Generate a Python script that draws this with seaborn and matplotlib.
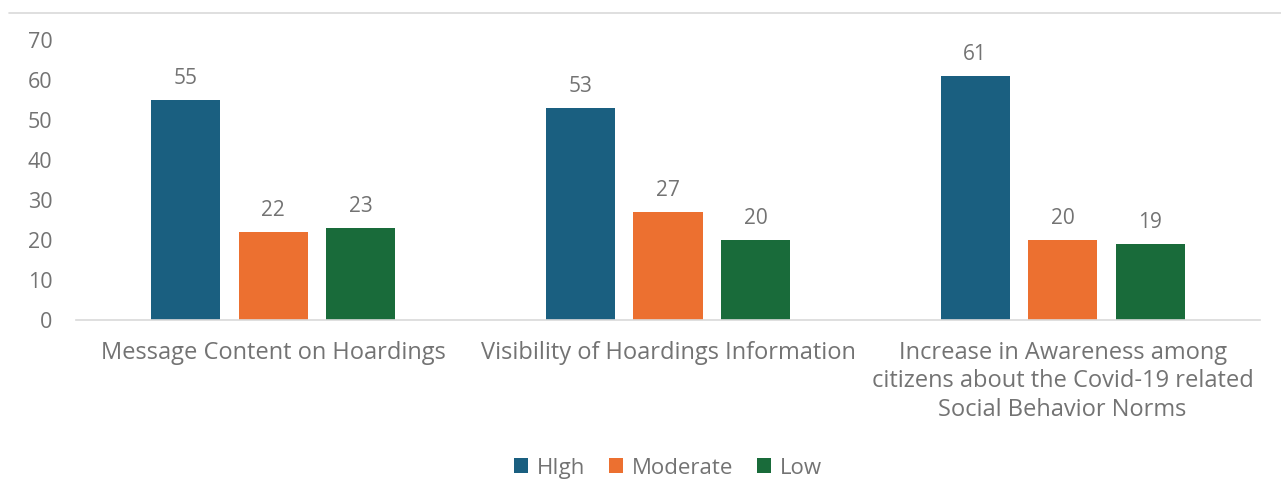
import pandas as pd
import matplotlib.pyplot as plt
import seaborn as sns
from matplotlib.lines import Line2D

# Data
categories = [
    "Message Content on Hoardings",
    "Visibility of Hoardings Information",
    "Increase in Awareness among\ncitizens about the Covid-19 related\nSocial Behavior Norms",
]
levels = ["HIgh", "Moderate", "Low"]
high = [55, 53, 61]
moderate = [22, 27, 20]
low = [23, 20, 19]

df = pd.DataFrame({
    "category": categories * 3,
    "level": [levels[0]] * 3 + [levels[1]] * 3 + [levels[2]] * 3,
    "value": high + moderate + low,
})

colors = ["#1A5F80", "#EC7030", "#196B3A"]
text_color = "#737373"

sns.set_style("white")
plt.rcParams["font.family"] = ["Open Sans", "DejaVu Sans"]

fig = plt.figure(figsize=(12.81, 4.92), dpi=100)
ax = fig.add_axes([76 / 1281, 172 / 492, 1184 / 1281, 280 / 492])

sns.barplot(
    data=df,
    x="category",
    y="value",
    hue="level",
    palette=colors,
    saturation=1,
    width=0.665,
    gap=0.21,
    linewidth=0,
    ax=ax,
)

for container in ax.containers:
    ax.bar_label(container, padding=8, fontsize=15, color=text_color)

ax.set_ylim(0, 70)
ax.set_yticks(range(0, 71, 10))
ax.set_xlabel("")
ax.set_ylabel("")
ax.tick_params(axis="both", length=0, labelsize=15.5, labelcolor=text_color)
ax.tick_params(axis="y", pad=17)
ax.tick_params(axis="x", pad=15)
for lbl in ax.get_xticklabels():
    lbl.set_linespacing(1.25)
    lbl.set_fontsize(17)

for side in ["top", "right", "left"]:
    ax.spines[side].set_visible(False)
ax.spines["bottom"].set_color("#D9D9D9")
ax.spines["bottom"].set_linewidth(1.2)

ax.legend(
    loc="upper center",
    bbox_to_anchor=(0.5, -0.42),
    ncol=3,
    frameon=False,
    fontsize=16,
    labelcolor=text_color,
    handlelength=0.65,
    handleheight=0.65,
    handletextpad=0.4,
    columnspacing=1.05,
)

# Top border line
fig.add_artist(Line2D([9 / 1281, 1], [1 - 13 / 492, 1 - 13 / 492],
                      color="#D9D9D9", linewidth=1.2))

plt.savefig("out.png", dpi=100)
